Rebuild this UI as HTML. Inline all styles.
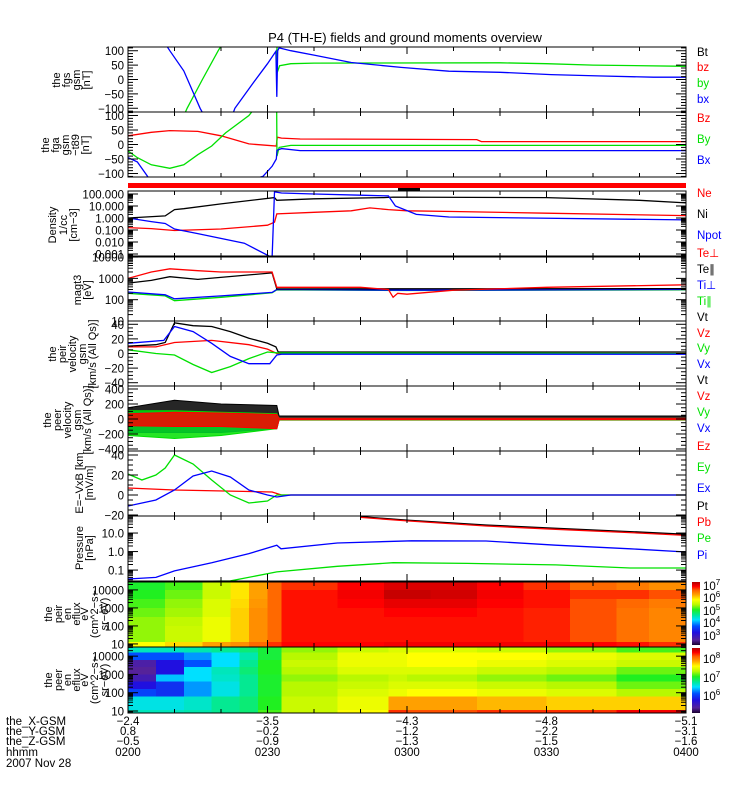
<!DOCTYPE html>
<html><head><meta charset="utf-8"><style>
html,body{margin:0;padding:0;background:#fff;}
svg{display:block;font-family:"Liberation Sans",sans-serif;}
</style></head><body>
<svg id="chart" width="750" height="800" viewBox="0 0 750 800" xmlns="http://www.w3.org/2000/svg">
<rect x="0" y="0" width="750" height="800" fill="#fff"/>
<text x="405" y="42" font-size="13" text-anchor="middle">P4 (TH-E) fields and ground moments overview</text>
</svg>
<script>
// ---- data (minutes after 02:00) ----
const fgsBxT=[0,5,9,12,15.5,20,23,27,30,31.8,32,32.2,32.5,35,40,48,58.7,69,80,91,102,113,120];
const fgsBxV=[400,200,100,30,-100,-230,-100,-10,55,98,-60,100,110,100,85,59,42,29,25,17,12,8,8];
const fgsByT=[0,10,12.7,16,19.4,25,31.9,32.1,32.6,35,40,80,90,100,120];
const fgsByV=[-400,-200,-100,0,100,250,300,25,48,55,57,58,55,50,46];
const fgaBzT=[0,5,9,15,20,26,31.9,32.1,33,37,75,76,120];
const fgaBzV=[30,42,48,45,30,2,-5,25,22,19,17,10,10];
const fgaByT=[0,2,5,9,12,15,18,21,26,30,31.9,32.05,32.5,35,120];
const fgaByV=[-22,-45,-70,-82,-70,-35,-5,40,100,180,300,-40,-10,-3,-3];
const fgaBxT=[0,2,4,8,29,31,31.9,32.05,33,37,120];
const fgaBxV=[-45,-60,-105,-200,-110,-75,-50,-20,-14,-21,-21];
const neT=[0,5,10,20,30,31.5,32,40,48,52,56,60,70,90,120];
const neV=[0.16,0.13,0.09,0.12,0.25,0.45,2.2,3,4,7,5,4,3.5,2.5,1.6];
const niT=[0,8,10,12,20,31.5,32,40,55,57,90,110,120];
const niV=[1,1.5,5,6,15,50,30,40,50,55,50,30,18];
const npotT=[0,5,8,10,15,25,31,31.5,33,40,50,56,57.5,62,69,120];
const npotV=[1,0.5,0.35,0.12,0.05,0.008,0.0005,150,120,100,80,70,10,2,1.2,0.7];
const tePerpT=[0,5,9,15,20,31,32,50,56,57,58,60,70,90,120];
const tePerpV=[1000,2000,2800,2300,2000,2000,380,380,300,130,200,180,280,380,500];
const teParT=[0,5,9,15,31,32,120];
const teParV=[600,800,1200,900,1800,320,330];
const tiPerpT=[0,8,10,20,31,32,60,120];
const tiPerpV=[230,170,110,150,220,300,280,300];
const tiParT=[0,8,10,20,31,32,60,120];
const tiParV=[200,150,90,130,210,290,270,290];
const peirVtT=[0,6,8,10,14,18,22,26,30,31.8,32.3,120];
const peirVtV=[10,12,15,42,38,37,30,21,14,9,2,2];
const peirVzT=[0,6,10,18,26,30,32,120];
const peirVzV=[9,9,15,18,12,6,0,0];
const peirVyT=[0,6,10,14,18,22,26,30,32,120];
const peirVyV=[5,0,-2,-15,-26,-18,-7,2,1,0];
const peirVxT=[0,7.7,10,14,18,22,26,30.5,32,33,120];
const peirVxV=[14,18,37,30,14,-4,-14,-14,-2,-1,-1];
const peerT=[0,10,20,32,32.5,120];
const peerVtMin=[40,40,40,40,10,10];
const peerVtMax=[150,250,200,180,40,40];
const peerVxMin=[-180,-180,-180,-130,-10,-10];
const peerVxMax=[90,90,70,50,10,10];
const peerVyMin=[-220,-260,-220,-130,-15,-15];
const peerVyMax=[110,110,90,70,10,10];
const peerVzMin=[-90,-100,-100,-130,-10,-10];
const peerVzMax=[70,90,80,60,10,10];
const eyT=[0,3,6,8,10,14,18,22,26,30,32,33,120];
const eyV=[21,15,20,27,40,31,15,0,-8,-6,0,0,0];
const exT=[0,6,10,14,18,22,26,30,32,35,120];
const exV=[-11,-5,5,19,24,18,5,0,-2,0,0];
const ezT=[0,10,31,33,120];
const ezV=[7,5,3,0,0];
const ptT=[50,60,77,92,108,120];
const ptV=[76,50,27,18,12,8.6];
const pbV=[70,45,24,16,10.5,7.5];
const piT=[0,6,10,18,26,32,32.9,45,61,77,92,108,120];
const piV=[0.033,0.04,0.09,0.25,0.78,2.2,1.4,2.9,3.8,3.7,2.2,1.4,0.95];
const peT=[0,22,32,45,57,73,92,108,120];
const peV=[0.022,0.026,0.08,0.16,0.25,0.23,0.19,0.13,0.13];
const s1Times=[0,8,16,22,26,30,33,45,55,65,75,85,95,105,112,120];
const s1Energy=[4.44,4.0,3.5,3.0,2.5,2.0,1.1,0.83];
const s1Vals=[
[0.55,0.56,0.58,0.6,0.62,0.62,0.72],
[0.58,0.6,0.62,0.63,0.65,0.66,0.75],
[0.66,0.66,0.68,0.68,0.7,0.7,0.8],
[0.74,0.74,0.75,0.76,0.76,0.76,0.82],
[0.8,0.8,0.81,0.82,0.82,0.82,0.86],
[0.86,0.86,0.86,0.86,0.86,0.86,0.9],
[0.9,0.92,0.92,0.92,0.92,0.92,0.93],
[0.93,0.94,0.93,0.92,0.92,0.92,0.93],
[0.96,0.98,0.95,0.93,0.92,0.92,0.94],
[0.96,0.97,0.95,0.93,0.92,0.92,0.94],
[0.93,0.94,0.93,0.92,0.92,0.92,0.94],
[0.9,0.92,0.92,0.91,0.91,0.91,0.94],
[0.86,0.9,0.88,0.88,0.88,0.88,0.93],
[0.84,0.9,0.86,0.85,0.85,0.85,0.92],
[0.82,0.88,0.84,0.83,0.83,0.83,0.9]];
const s2Times=[0,6,12,18,24,28,33,45,56,60,75,90,105,120];
const s2Energy=[4.5,4.2,3.8,3.4,3.0,2.6,2.2,1.8,1.05,0.89];
const s2Vals=[
[0.45,0.3,0.1,0.08,0.12,0.2,0.28,0.42,0.45],
[0.45,0.3,0.2,0.2,0.38,0.25,0.25,0.42,0.45],
[0.46,0.35,0.3,0.4,0.4,0.35,0.35,0.44,0.46],
[0.48,0.4,0.4,0.45,0.44,0.42,0.42,0.48,0.48],
[0.5,0.46,0.48,0.5,0.48,0.48,0.48,0.5,0.5],
[0.54,0.54,0.56,0.56,0.55,0.55,0.55,0.56,0.58],
[0.62,0.64,0.66,0.64,0.62,0.64,0.64,0.66,0.66],
[0.66,0.7,0.7,0.68,0.64,0.66,0.68,0.7,0.72],
[0.68,0.7,0.7,0.68,0.66,0.68,0.7,0.8,0.9],
[0.68,0.72,0.72,0.68,0.64,0.68,0.72,0.8,0.88],
[0.66,0.72,0.7,0.66,0.62,0.66,0.7,0.78,0.9],
[0.62,0.7,0.68,0.64,0.6,0.64,0.68,0.76,0.9],
[0.58,0.68,0.66,0.6,0.56,0.6,0.64,0.76,0.94]];
const timeTickLabels=["0200","0230","0300","0330","0400"];
const xGsmLabels=["-2.4","-3.5","-4.3","-4.8","-5.1"];
const yGsmLabels=["0.8","-0.2","-1.2","-2.2","-3.1"];
const zGsmLabels=["-0.5","-0.9","-1.3","-1.5","-1.6"];

// ---- layout ----
const NS='http://www.w3.org/2000/svg';
const svg=document.getElementById('chart');
function mk(tag,attrs,parent){const e=document.createElementNS(NS,tag);for(const k in attrs)e.setAttribute(k,attrs[k]);(parent||svg).appendChild(e);return e;}
const X0=128,X1=686;
function X(t){return X0+(t/120)*(X1-X0);}
const P={
fgs:{top:47,bot:112,log:false,min:-113,max:113,major:[100,50,0,-50,-100],minor:10,labels:["100","50","0","\u221250","\u2212100"]},
fga:{top:112,bot:177,log:false,min:-112,max:112,major:[100,50,0,-50,-100],minor:10,labels:["100","50","0","\u221250","\u2212100"]},
den:{top:191,bot:257,log:true,min:-3.25,max:2.25,major:[2,1,0,-1,-2,-3],labels:["100.000","10.000","1.000","0.100","0.010","0.001"]},
mag:{top:256,bot:321,log:true,min:1,max:4.05,major:[4,3,2,1],labels:["10000","1000","100","10"]},
peir:{top:321,bot:386,log:false,min:-44.5,max:44.5,major:[40,20,0,-20,-40],minor:5,labels:["40","20","0","\u221220","\u221240"]},
peer:{top:386,bot:451,log:false,min:-427,max:440,major:[400,200,0,-200,-400],minor:50,labels:["400","200","0","\u2212200","\u2212400"]},
ef:{top:451,bot:516,log:false,min:-21,max:44,major:[40,20,0,-20],minor:5,labels:["40","20","0","\u221220"]},
pr:{top:516,bot:581,log:true,min:-1.59,max:1.92,major:[1,0,-1],labels:["10.0","1.0","0.1"]},
s1:{top:582,bot:647,log:true,min:0.83,max:4.44,major:[4,3,2,1],labels:["10000","1000","100","10"]},
s2:{top:647,bot:713,log:true,min:0.89,max:4.5,major:[4,3,2,1],labels:["10000","1000","100","10"]}};
function Ya(p,a){return p.bot-(a-p.min)/(p.max-p.min)*(p.bot-p.top);}
function Y(p,v){return Ya(p,p.log?Math.log10(Math.max(v,1e-9)):v);}
const defs=mk('defs',{});
Object.keys(P).forEach(k=>{const p=P[k];const cp=mk('clipPath',{id:'clip-'+k},defs);mk('rect',{x:X0,y:p.top,width:X1-X0,height:p.bot-p.top},cp);});

const stops=[[0,'#1a0030'],[0.08,'#55229a'],[0.2,'#2010e0'],[0.3,'#0050ff'],[0.4,'#00e0ff'],[0.47,'#00e8a0'],[0.56,'#20f020'],[0.64,'#b8f800'],[0.72,'#ffff00'],[0.8,'#ffa000'],[0.87,'#ff6000'],[0.93,'#ff0000'],[1,'#b00000']];
function hex(c){return [parseInt(c.substr(1,2),16),parseInt(c.substr(3,2),16),parseInt(c.substr(5,2),16)];}
function cmap(f){f=Math.max(0,Math.min(1,f));for(let i=1;i<stops.length;i++){if(f<=stops[i][0]){const a=stops[i-1],b=stops[i];const u=(f-a[0])/(b[0]-a[0]);const ca=hex(a[1]),cb=hex(b[1]);return 'rgb('+ca.map((v,j)=>Math.round(v+(cb[j]-v)*u)).join(',')+')';}}return stops[stops.length-1][1];}

// spectrograms
function spec(key,times,energy,vals,name){
  const p=P[key];const g=mk('g',{'clip-path':'url(#clip-'+key+')','shape-rendering':'crispEdges'});
  
  
  for(let i=0;i<vals.length;i++){for(let j=0;j<vals[i].length;j++){
    const x=X(times[i]),w=X(times[i+1])-x+0.6;const y=Ya(p,energy[j]),h=Ya(p,energy[j+1])-y+0.6;
    const r=mk('rect',{x:x,y:y,width:w,height:h,fill:cmap(vals[i][j])},g);
    
    
  }}
}
spec('s1',s1Times,s1Energy,s1Vals,'ion-spectrogram');
spec('s2',s2Times,s2Energy,s2Vals,'electron-spectrogram');

// line series
function line(key,ts,vs,color,name){
  const p=P[key];const pts=ts.map((t,i)=>X(t).toFixed(1)+','+Y(p,vs[i]).toFixed(1)).join(' ');
  const e=mk('polyline',{points:pts,fill:'none',stroke:color,'stroke-width':1.3,'clip-path':'url(#clip-'+key+')'});
  
  
}
function band(key,ts,lo,hi,color,name){
  const p=P[key];const a=ts.map((t,i)=>X(t).toFixed(1)+','+Y(p,hi[i]).toFixed(1));
  const b=ts.map((t,i)=>X(t).toFixed(1)+','+Y(p,lo[i]).toFixed(1)).reverse();
  const e=mk('polygon',{points:a.concat(b).join(' '),fill:color,'fill-opacity':0.85,stroke:color,'stroke-width':1,'clip-path':'url(#clip-'+key+')'});
  
  
}
const K='#000',R='#ff0000',G='#00e000',B='#0000ff';
line('fgs',fgsByT,fgsByV,G,'fgs-by-line');
line('fgs',fgsBxT,fgsBxV,B,'fgs-bx-line');
line('fga',fgaBzT,fgaBzV,R,'fga-bz-line');
line('fga',fgaByT,fgaByV,G,'fga-by-line');
line('fga',fgaBxT,fgaBxV,B,'fga-bx-line');
line('den',niT,niV,K,'density-ni-line');
line('den',neT,neV,R,'density-ne-line');
line('den',npotT,npotV,B,'density-npot-line');
line('mag',tiParT,tiParV,G,'ti-par-line');
line('mag',tiPerpT,tiPerpV,B,'ti-perp-line');
line('mag',teParT,teParV,K,'te-par-line');
line('mag',tePerpT,tePerpV,R,'te-perp-line');
line('peir',peirVtT,peirVtV,K,'peir-vt-line');
line('peir',peirVzT,peirVzV,R,'peir-vz-line');
line('peir',peirVyT,peirVyV,G,'peir-vy-line');
line('peir',peirVxT,peirVxV,B,'peir-vx-line');
band('peer',peerT,peerVtMin,peerVtMax,K,'peer-vt-band');
band('peer',peerT,peerVxMin,peerVxMax,B,'peer-vx-band');
band('peer',peerT,peerVyMin,peerVyMax,G,'peer-vy-band');
band('peer',peerT,peerVzMin,peerVzMax,R,'peer-vz-band');
line('ef',ezT,ezV,R,'ez-line');
line('ef',eyT,eyV,G,'ey-line');
line('ef',exT,exV,B,'ex-line');
line('pr',ptT,ptV,K,'pt-line');
line('pr',ptT,pbV,R,'pb-line');
line('pr',piT,piV,B,'pi-line');
line('pr',peT,peV,G,'pe-line');

// red bar + small marker
const rb=mk('rect',{x:X0,y:183,width:X1-X0,height:5,fill:'#ff0000'});


const mb=mk('rect',{x:398,y:188,width:22,height:3,fill:'#000'});



// axes
Object.keys(P).forEach(k=>{
  const p=P[k];const g=mk('g',{stroke:'#000','stroke-width':1,fill:'none'});
  
  
  mk('rect',{x:X0,y:p.top,width:X1-X0,height:p.bot-p.top},g);
  function yt(a,len){const y=Ya(p,a);if(y<p.top-0.5||y>p.bot+0.5)return;mk('line',{x1:X0,x2:X0+len,y1:y,y2:y},g);mk('line',{x1:X1,x2:X1-len,y1:y,y2:y},g);}
  if(p.log){for(let d=Math.floor(p.min);d<=Math.ceil(p.max);d++){for(let m=1;m<=9;m++){yt(d+Math.log10(m),m===1?10:5);}}}
  else{for(let v=Math.ceil(p.min/p.minor)*p.minor;v<=p.max;v+=p.minor){yt(v,p.major.indexOf(v)>=0?10:5);}}
  for(let t=0;t<=120;t+=10){const len=t%30===0?7:4;const x=X(t);mk('line',{x1:x,x2:x,y1:p.bot,y2:p.bot-len},g);mk('line',{x1:x,x2:x,y1:p.top,y2:p.top+len},g);}
  p.major.forEach((a,i)=>{const tx=mk('text',{x:124,y:Ya(p,a)+4.5,'font-size':11.5,'text-anchor':'end',fill:'#000',stroke:'none'});tx.textContent=p.labels[i];
    
    });
});

// left rotated labels
const leftLabels=[
{y:80,lines:[['the',56],['fgs',66],['gsm',76],['[nT]',86]],name:'fgs-axis-title'},
{y:145,lines:[['the',45],['fga',55],['gsm',65],['\u2212t89',75],['[nT]',85]],name:'fga-axis-title'},
{y:225,lines:[['Density',52],['1/cc',63],['[cm\u22123]',73]],name:'density-axis-title'},
{y:290,lines:[['magt3',77],['[eV]',87]],name:'temperature-axis-title'},
{y:354,lines:[['the',52],['peir',62],['velocity',72],['gsm',82],['[km/s (All Qs)]',92]],name:'peir-velocity-axis-title'},
{y:420,lines:[['the',47],['peer',57],['velocity',67],['gsm',77],['[km/s (All Qs)]',87]],name:'peer-velocity-axis-title'},
{y:483,lines:[['E=\u2212VxB [km',79],['[mV/m]',89]],name:'efield-axis-title'},
{y:548,lines:[['Pressure',79],['[nPa]',89]],name:'pressure-axis-title'},
{y:614,lines:[['the',48],['peir',58],['en',67],['eflux',76],['eV',84],['(cm^2\u2212s\u2212',94],['sr\u2212eV)',104]],name:'ion-spectrogram-axis-title'},
{y:680,lines:[['the',48],['peer',58],['en',67],['eflux',76],['eV',84],['(cm^2\u2212s\u2212',94],['sr\u2212eV)',104]],name:'electron-spectrogram-axis-title'}];
leftLabels.forEach(L=>{const g=mk('g',{'font-size':11,fill:'#000'});
  
  
  L.lines.forEach(l=>{const t=mk('text',{transform:'translate('+(l[1]+4)+','+L.y+') rotate(-90)','text-anchor':'middle'},g);t.textContent=l[0];});});

// right legend labels
const legend=[['Bt',52,K],['bz',67,R],['by',83,G],['bx',99,B],['Bz',118,R],['By',139,G],['Bx',160,B],['Ne',193,R],['Ni',214,K],['Npot',235,B],['Te\u22a5',253,R],['Te\u2225',269,K],['Ti\u22a5',285,B],['Ti\u2225',301,G],['Vt',317,K],['Vz',333,R],['Vy',348,G],['Vx',364,B],['Vt',380,K],['Vz',396,R],['Vy',412,G],['Vx',428,B],['Ez',446,R],['Ey',467,G],['Ex',488,B],['Pt',506,K],['Pb',522,R],['Pe',538,G],['Pi',555,B]];
legend.forEach(l=>{const t=mk('text',{x:697,y:l[1]+4,'font-size':11.5,fill:l[2]});t.textContent=l[0];
  
  });

// colorbars
function cbar(y0,y1,name,labs){
  const id='grad-'+name;const lg=mk('linearGradient',{id:id,x1:0,y1:1,x2:0,y2:0},defs);
  stops.forEach(s=>mk('stop',{offset:s[0],'stop-color':s[1]},lg));
  const r=mk('rect',{x:692,y:y0,width:8,height:y1-y0,fill:'url(#'+id+')'});
  
  
  labs.forEach(l=>{const t=mk('text',{x:703,y:l[1]+4,'font-size':11.5,fill:'#000'});t.textContent='10';const s=mk('tspan',{dy:-5,'font-size':8},t);s.textContent=l[0];
    
    });
}
cbar(582,645,'ion-colorbar',[['7',586],['6',598],['5',611],['4',623],['3',636]]);
cbar(648,713,'electron-colorbar',[['8',659],['7',678],['6',696]]);

// bottom annotation rows
const rows=[['the_X-GSM',725,xGsmLabels],['the_Y-GSM',735,yGsmLabels],['the_Z-GSM',745,zGsmLabels],['hhmm',756,timeTickLabels]];
rows.forEach(r=>{const t=mk('text',{x:6,y:r[1],'font-size':11.5});t.textContent=r[0];
  
  
  r[2].forEach((v,i)=>{const e=mk('text',{x:X(i*30),y:r[1],'font-size':11.5,'text-anchor':'middle'});e.textContent=v.replace('-','\u2212');
    
    });});
const dt=mk('text',{x:6,y:767,'font-size':11.5});dt.textContent='2007 Nov 28';


</script>
</body></html>
